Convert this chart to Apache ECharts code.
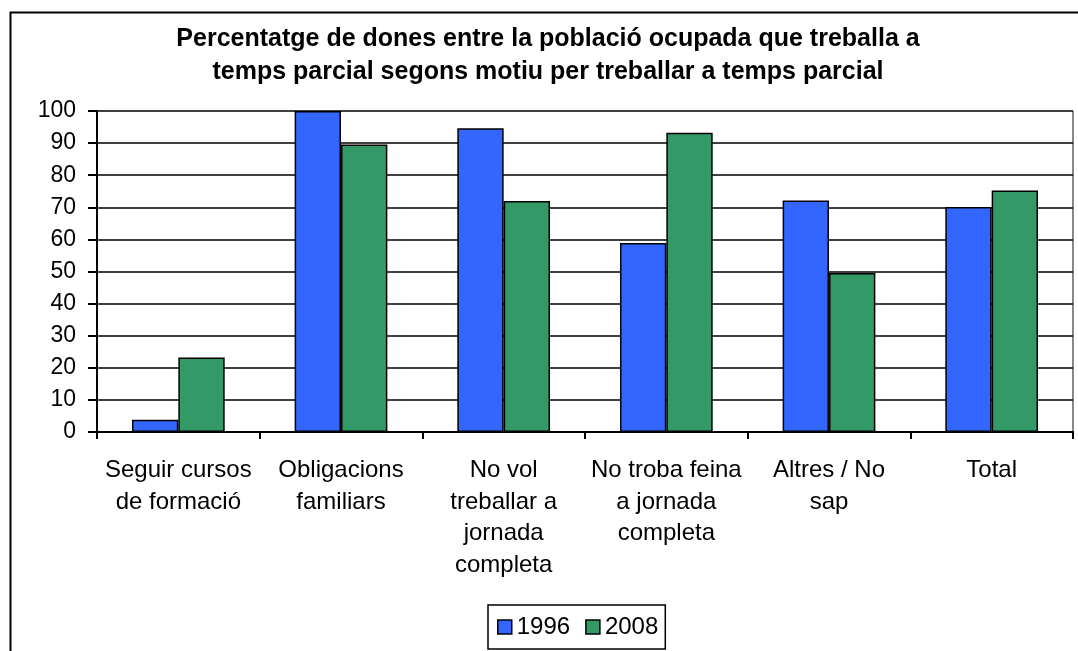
<!DOCTYPE html>
<html>
<head>
<meta charset="utf-8">
<script src="https://cdn.jsdelivr.net/npm/echarts@6/dist/echarts.min.js"></script>
<style>html,body{margin:0;padding:0;background:#fff}#c{width:1078px;height:651px}</style>
</head>
<body>
<div id="c"></div>
<script>
const titleText = "Percentatge de dones entre la població ocupada que treballa a\ntemps parcial segons motiu per treballar a temps parcial";
const categories = [
  "Seguir cursos\nde formació",
  "Obligacions\nfamiliars",
  "No vol\ntreballar a\njornada\ncompleta",
  "No troba feina\na jornada\ncompleta",
  "Altres / No\nsap",
  "Total"
];
const seriesNames = ["1996", "2008"];
const values1996 = [3.8, 100, 94.6, 58.9, 72.1, 70.1];
const values2008 = [23.2, 89.6, 72, 93.2, 49.5, 75.2];
const yTicks = { min: 0, max: 100, interval: 10 };

const font = "'Liberation Sans', Arial, sans-serif";
const chart = echarts.init(document.getElementById('c'), null, { renderer: 'canvas' });
chart.setOption({
  backgroundColor: '#fff',
  animation: false,
  textStyle: { fontFamily: font },
  title: {
    text: titleText,
    left: 548, top: 23, textAlign: 'center', padding: 0,
    textStyle: { fontFamily: font, fontSize: 25, fontWeight: 'bold', color: '#000', lineHeight: 32.5 }
  },
  graphic: [{
    type: 'rect', silent: true, z: -1,
    shape: { x: 10.5, y: 12.5, width: 1200, height: 800 },
    style: { fill: 'none', stroke: '#000', lineWidth: 2 }
  }, {
    type: 'line', silent: true, z: 0,
    shape: { x1: 1073, y1: 111, x2: 1073, y2: 432 },
    style: { stroke: '#888', lineWidth: 2 }
  }],
  legend: {
    data: seriesNames,
    left: 488, top: 605,
    padding: [10, 7, 10, 9],
    itemGap: 15, itemWidth: 14, itemHeight: 14,
    icon: 'rect',
    borderColor: '#000', borderWidth: 1.5,
    textStyle: { fontFamily: font, fontSize: 24, color: '#000', padding: [0, 4, 0, 0] },
    itemStyle: { borderColor: '#000', borderWidth: 1.5 }
  },
  grid: { left: 97, right: 5, top: 111, bottom: 219, containLabel: false },
  xAxis: {
    type: 'category',
    data: categories,
    axisLine: { lineStyle: { color: '#000', width: 2 } },
    axisTick: { show: true, length: 7, alignWithLabel: false, lineStyle: { color: '#000', width: 2 } },
    axisLabel: { interval: 0, margin: 23, fontSize: 24, lineHeight: 31.5, color: '#000', fontFamily: font, align: 'center' }
  },
  yAxis: {
    type: 'value',
    min: yTicks.min, max: yTicks.max, interval: yTicks.interval,
    axisLine: { show: true, lineStyle: { color: '#000', width: 2 } },
    axisTick: { show: true, length: 9, lineStyle: { color: '#000', width: 2 } },
    axisLabel: { margin: 21, fontSize: 23, color: '#000', fontFamily: font },
    splitLine: { lineStyle: { color: '#000', width: 1.5 } }
  },
  series: [{
    name: seriesNames[0], type: 'bar', data: values1996,
    barGap: '0%', barCategoryGap: '43%',
    itemStyle: { color: '#3366FF', borderColor: '#000', borderWidth: 1.5 }
  }, {
    name: seriesNames[1], type: 'bar', data: values2008,
    itemStyle: { color: '#339966', borderColor: '#000', borderWidth: 1.5 }
  }]
});
</script>
</body>
</html>
